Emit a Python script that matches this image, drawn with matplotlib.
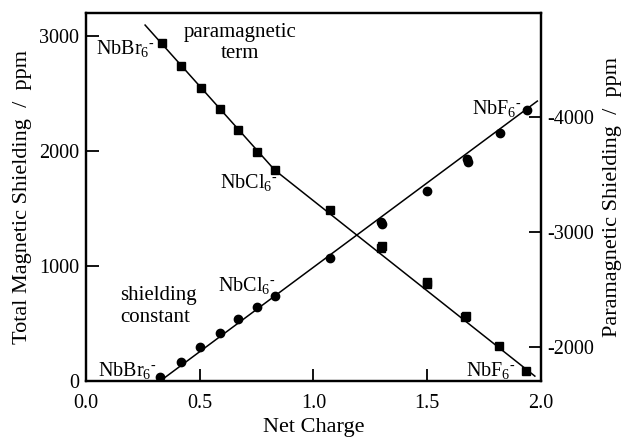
import matplotlib
matplotlib.use("Agg")
import matplotlib.pyplot as plt

plt.rcParams["font.family"] = ["Liberation Serif", "DejaVu Serif"]
plt.rcParams["mathtext.fontset"] = "custom"
plt.rcParams["mathtext.rm"] = "Liberation Serif"
plt.rcParams["mathtext.it"] = "Liberation Serif:italic"
plt.rcParams["mathtext.bf"] = "Liberation Serif:bold"
plt.rcParams["axes.unicode_minus"] = False

# shielding constant (left axis, ppm)
charge_sc = [0.326, 0.42, 0.50, 0.59, 0.67, 0.75, 0.83, 1.075, 1.298, 1.30,
             1.50, 1.674, 1.68, 1.821, 1.938]
sigma_sc = [37, 168, 298, 415, 536, 646, 739, 1072, 1385, 1370,
            1655, 1928, 1907, 2154, 2357]

# paramagnetic term (right axis, ppm)
charge_pm = [0.333, 0.42, 0.507, 0.59, 0.67, 0.75, 0.83, 1.075, 1.298, 1.30,
             1.498, 1.50, 1.667, 1.67, 1.816, 1.937]
sigma_pm = [-4637, -4442, -4245, -4063, -3883, -3694, -3535, -3187, -2854, -2875,
            -2543, -2560, -2254, -2262, -2007, -1790]

# fitted lines
fit_sc_x = [0.326, 1.985]
fit_sc_y = [0, 2435]
fit_pm_x = [0.26, 0.83, 1.974]
fit_pm_y = [-4796, -3535, -1743]

fig = plt.figure(figsize=(6.23, 4.37), dpi=100)
ax = fig.add_axes([0.138, 0.128, 0.730, 0.842])
ax2 = ax.twinx()

ax.plot(fit_sc_x, fit_sc_y, color="black", lw=1.1)
ax.plot(charge_sc, sigma_sc, "o", color="black", ms=6)
ax2.plot(fit_pm_x, fit_pm_y, color="black", lw=1.1)
ax2.plot(charge_pm, sigma_pm, "s", color="black", ms=5.5)

ax.set_xlim(0, 2.0)
ax.set_ylim(0, 3200)
ax2.set_ylim(-1700, -4900)
ax.set_xticks([0.0, 0.5, 1.0, 1.5, 2.0])
ax.set_xticklabels(["0.0", "0.5", "1.0", "1.5", "2.0"])
ax.set_yticks([0, 1000, 2000, 3000])
ax2.set_yticks([-2000, -3000, -4000])

for a in (ax, ax2):
    for s in a.spines.values():
        s.set_linewidth(1.6)
    a.tick_params(direction="in", length=9, width=1.3, labelsize=14.5)
ax.tick_params(top=False, right=False)
ax.tick_params(axis="x", pad=9)
ax.tick_params(axis="y", pad=5)
ax2.tick_params(pad=5)

ax.set_xlabel("Net Charge", fontsize=16, labelpad=4)
ax.set_ylabel("Total Magnetic Shielding  /  ppm", fontsize=16, labelpad=5)
ax2.set_ylabel("Paramagnetic Shielding  /  ppm", fontsize=16, labelpad=6)

fs = 15
ax.text(0.678, 3035, "paramagnetic", fontsize=fs, ha="center", va="center")
ax.text(0.678, 2852, "term", fontsize=fs, ha="center", va="center")
ax.text(0.15, 748, "shielding", fontsize=fs, ha="left", va="center")
ax.text(0.15, 557, "constant", fontsize=fs, ha="left", va="center")

fl = 14.5
ax.text(0.044, 2896, r"NbBr$_6$$^{\text{-}}$", fontsize=fl, ha="left", va="center")
ax.text(0.59, 1730, r"NbCl$_6$$^{\text{-}}$", fontsize=fl, ha="left", va="center")
ax.text(0.581, 835, r"NbCl$_6$$^{\text{-}}$", fontsize=fl, ha="left", va="center")
ax.text(0.053, 96, r"NbBr$_6$$^{\text{-}}$", fontsize=fl, ha="left", va="center")
ax.text(1.696, 2374, r"NbF$_6$$^{\text{-}}$", fontsize=fl, ha="left", va="center")
ax.text(1.67, 96, r"NbF$_6$$^{\text{-}}$", fontsize=fl, ha="left", va="center")

fig.savefig("out.png", dpi=100)
